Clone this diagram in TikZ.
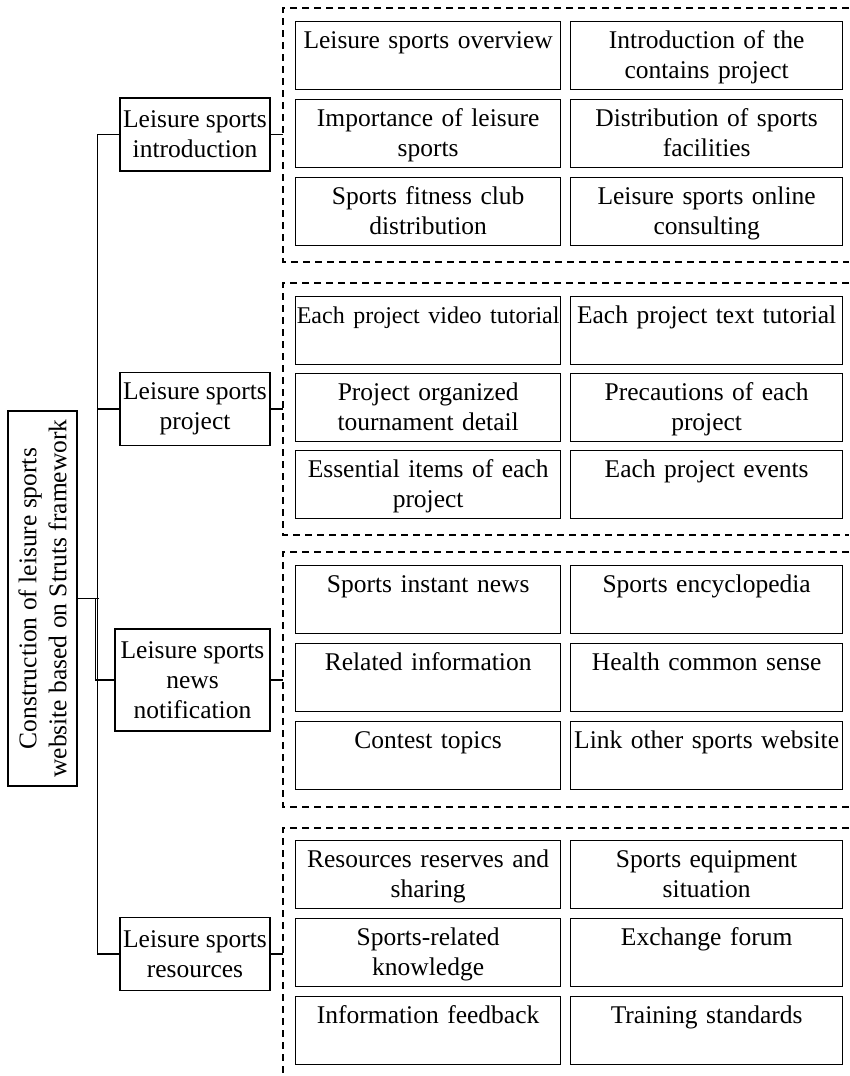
\documentclass[tikz,border=0pt]{standalone}
\usepackage{fontspec}
\setmainfont{Liberation Serif}
\usepackage{tikz}
\usetikzlibrary{positioning, calc}

\begin{document}
\begin{tikzpicture}[x=1pt, y=-1pt, font=\fontsize{25.5}{30}\selectfont, line width=1.3pt,
    lvl/.style={draw, align=center, inner sep=0pt, minimum width=150pt, minimum height=73pt},
    cell/.style={draw, anchor=north west, align=center, inner sep=0pt, text height=27pt, text depth=41pt},
    grp/.style={dash pattern=on 7pt off 5pt}]
  \useasboundingbox (0,0) rectangle (849,1076);
  % Root
  \node[draw, rotate=90, align=center, inner sep=0pt, minimum width=375pt, minimum height=69pt]
    (root) at (42.5,598.5) {Construction of leisure sports\\website based on Struts framework};
  % Modules
  \node[lvl] (intro) at (195,134.5) {Leisure sports\\introduction};
  \node[lvl] (proj) at (195,409) {Leisure sports\\project};
  \node[lvl, minimum width=155pt, minimum height=102pt] (news) at (192.5,680) {Leisure sports\\news\\notification};
  \node[lvl] (res) at (195,954) {Leisure sports\\resources};
  % Dashed groups
  \coordinate (gx) at (283,0);
  \foreach \t/\b in {8/262, 283/535, 552/807}
    \draw[grp] (849,\t) -- (283,\t) -- (283,\b) -- (849,\b);
  \draw[grp] (849,828) -- (283,828) -- (283,1076);
  % Sub items
  \foreach \y/\l/\r [count=\i] in {
      21/{Leisure sports overview}/{Introduction of the\\contains project},
      99/{Importance of leisure\\sports}/{Distribution of sports\\facilities},
      177/{Sports fitness club\\distribution}/{Leisure sports online\\consulting},
      296/{\fontsize{24}{30}\selectfont\makebox[265pt]{Each project video tutorial}}/{Each project text tutorial},
      373/{Project organized\\tournament detail}/{Precautions of each\\project},
      450/{Essential items of each\\project}/{Each project events},
      565/{Sports instant news}/{Sports encyclopedia},
      643/{Related information}/{Health common sense},
      721/{Contest topics}/{Link other sports website},
      840/{Resources reserves and\\sharing}/{Sports equipment\\situation},
      918/{Sports-related\\knowledge}/{Exchange forum},
      996/{Information feedback}/{Training standards}} {
    \node[cell, text width=265pt] (l\i) at (295,\y) {\l};
    \node[cell, text width=272pt] (r\i) at (570,\y) {\r};
  }
  % Connectors
  \draw (intro.west) -- ++(-22,0) |- (res.west);
  \draw (proj.west) -- ++(-22,0);
  \draw (root.south) -- ++(21,0);
  \draw (root.south) -- ++(18,0) |- (news.west);
  \foreach \m in {intro, proj, news, res}
    \draw (\m.east) -- (\m.east -| gx);
\end{tikzpicture}
\end{document}
